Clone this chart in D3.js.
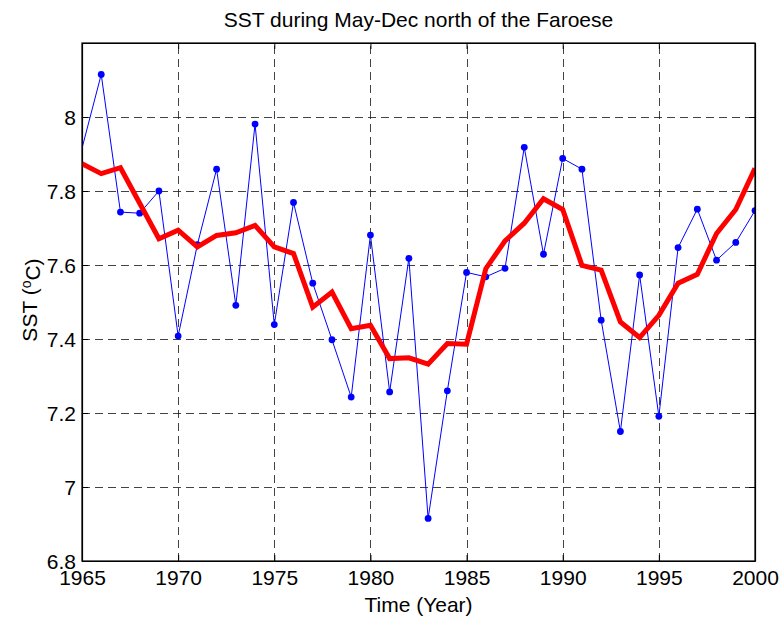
<!DOCTYPE html>
<html>
<head>
<meta charset="utf-8">
<script src="https://cdn.jsdelivr.net/npm/d3@7"></script>
<style>
  body { margin: 0; background: #fff; }
  text { font-family: "Liberation Sans", Arial, sans-serif; fill: #000; }
</style>
</head>
<body>
<svg id="chart"></svg>
<script>
const width = 780;
const height = 618;

// data (blue series starts one year before the axis)
const sstYears = [1964].concat(d3.range(1966, 2001));
const sst = [7.716, 8.115, 7.743, 7.74, 7.80, 7.408, 7.655, 7.859, 7.491, 7.981,
  7.439, 7.769, 7.551, 7.398, 7.243, 7.681, 7.257, 7.618, 6.915, 7.26,
  7.58, 7.568, 7.591, 7.918, 7.629, 7.888, 7.859, 7.451, 7.15, 7.573,
  7.191, 7.647, 7.751, 7.613, 7.661, 7.747];
const smoothYears = d3.range(1965, 2001);
const smooth = [7.874, 7.847, 7.863, 7.767, 7.671, 7.694, 7.649, 7.68, 7.687, 7.707,
  7.649, 7.631, 7.486, 7.527, 7.428, 7.437, 7.347, 7.349, 7.332, 7.388,
  7.386, 7.59, 7.665, 7.713, 7.779, 7.75, 7.599, 7.586, 7.446, 7.404,
  7.464, 7.551, 7.575, 7.685, 7.75, 7.861];
const xTicks = [1965, 1970, 1975, 1980, 1985, 1990, 1995, 2000];
const yTicks = [6.8, 7, 7.2, 7.4, 7.6, 7.8, 8];

const margin = { top: 43, bottom: 57, left: 82, right: 25 };

const svg = d3.select("svg#chart")
  .attr("width", width)
  .attr("height", height);

const x = d3.scaleLinear()
  .domain([1965, 2000])
  .range([margin.left, width - margin.right]);
const y = d3.scaleLinear()
  .domain([6.8, 8.2])
  .range([height - margin.bottom, margin.top]);

svg.append("defs").append("clipPath").attr("id", "plotclip")
  .append("rect")
  .attr("x", margin.left)
  .attr("y", margin.top)
  .attr("width", x.range()[1] - x.range()[0])
  .attr("height", y.range()[0] - y.range()[1]);

// grid
const grid = svg.append("g").attr("id", "grid")
  .attr("stroke", "#222")
  .attr("stroke-width", 1)
  .attr("stroke-dasharray", "8,5")
  .attr("stroke-opacity", 0.85);
grid.selectAll("line.gx")
  .data(xTicks.slice(1, -1))
  .enter().append("line")
  .attr("class", "gx")
  .attr("x1", d => Math.round(x(d)) + 0.5)
  .attr("x2", d => Math.round(x(d)) + 0.5)
  .attr("y1", y.range()[0])
  .attr("y2", y.range()[1]);
grid.selectAll("line.gy")
  .data(yTicks.slice(1))
  .enter().append("line")
  .attr("class", "gy")
  .attr("y1", d => Math.round(y(d)) + 0.5)
  .attr("y2", d => Math.round(y(d)) + 0.5)
  .attr("x1", x.range()[0])
  .attr("x2", x.range()[1]);

// axes (ticks point inward, on all four sides)
const axisFont = 21;
const bottomAxis = svg.append("g")
  .attr("transform", "translate(0," + y.range()[0] + ")")
  .call(d3.axisBottom(x).tickValues(xTicks).tickFormat(d3.format("d"))
    .tickSize(-6).tickSizeOuter(0).tickPadding(10));
const topAxis = svg.append("g")
  .attr("transform", "translate(0," + y.range()[1] + ")")
  .call(d3.axisTop(x).tickValues(xTicks).tickFormat("")
    .tickSize(-6).tickSizeOuter(0));
const leftAxis = svg.append("g")
  .attr("transform", "translate(" + x.range()[0] + ",0)")
  .call(d3.axisLeft(y).tickValues(yTicks).tickFormat(d3.format("~g"))
    .tickSize(-6).tickSizeOuter(0).tickPadding(6));
const rightAxis = svg.append("g")
  .attr("transform", "translate(" + x.range()[1] + ",0)")
  .call(d3.axisRight(y).tickValues(yTicks).tickFormat("")
    .tickSize(-6).tickSizeOuter(0));

[bottomAxis, topAxis, leftAxis, rightAxis].forEach(g => {
  g.selectAll(".domain").attr("stroke", "#000").attr("stroke-width", 1.2);
  g.selectAll(".tick line").attr("stroke", "#000");
  g.selectAll("text")
    .style("font-size", axisFont + "px")
    .style("font-family", "'Liberation Sans', Arial, sans-serif")
    .attr("fill", "#000");
});
bottomAxis.selectAll("text").attr("dy", "0.68em");
leftAxis.selectAll("text").attr("dy", "0.34em");

// lines
const plot = svg.append("g").attr("clip-path", "url(#plotclip)");

const line = d3.line()
  .x(d => x(d[0]))
  .y(d => y(d[1]));

const sstPts = sstYears.map((yr, i) => [yr, sst[i]]);

plot.append("path")
  .datum(sstPts)
  .attr("fill", "none")
  .attr("stroke", "#0000ff")
  .attr("stroke-width", 1)
  .attr("d", line);

plot.selectAll("circle.dot")
  .data(sstPts)
  .enter().append("circle")
  .attr("class", "dot")
  .attr("cx", d => x(d[0]))
  .attr("cy", d => y(d[1]))
  .attr("r", 3.4)
  .attr("fill", "#0000ff");

plot.append("path")
  .datum(smoothYears.map((yr, i) => [yr, smooth[i]]))
  .attr("fill", "none")
  .attr("stroke", "#ff0000")
  .attr("stroke-width", 5)
  .attr("stroke-linejoin", "miter")
  .attr("d", line);

// box on top
svg.append("rect")
  .attr("x", x.range()[0])
  .attr("y", y.range()[1])
  .attr("width", x.range()[1] - x.range()[0])
  .attr("height", y.range()[0] - y.range()[1])
  .attr("fill", "none")
  .attr("stroke", "#000")
  .attr("stroke-width", 1.2);

// titles
const xMid = (x.range()[0] + x.range()[1]) / 2;

svg.append("text")
  .attr("x", xMid)
  .attr("y", 27)
  .attr("text-anchor", "middle")
  .style("font-size", "21px")
  .text("SST during May-Dec north of the Faroese");

svg.append("text")
  .attr("x", xMid)
  .attr("y", 612)
  .attr("text-anchor", "middle")
  .style("font-size", "21px")
  .text("Time (Year)");

const yTitle = svg.append("text")
  .attr("transform", "translate(37,300) rotate(-90)")
  .attr("text-anchor", "middle")
  .style("font-size", "21px");
yTitle.append("tspan").text("SST (");
yTitle.append("tspan").attr("dy", "-0.45em").style("font-size", "14px").text("o");
yTitle.append("tspan").attr("dy", "0.45em").text("C)");
</script>
</body>
</html>
